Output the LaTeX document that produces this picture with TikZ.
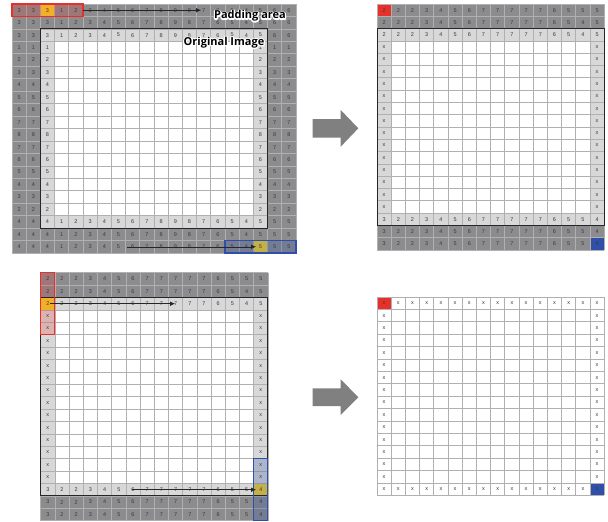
\documentclass[tikz,border=0pt]{standalone}
\usepackage{fontspec}
\setmainfont{Liberation Sans}
\newfontfamily\lblfont{Open Sans}
\usetikzlibrary{arrows.meta,calc}
\definecolor{padgray}{HTML}{8C8C8E}
\definecolor{bordgray}{HTML}{D8D8D8}
\definecolor{linecol}{HTML}{B0B0B0}
\definecolor{numcol}{HTML}{3A3A3A}
\definecolor{boxred}{HTML}{E8302A}
\definecolor{boxblue}{HTML}{2F4FA8}
\definecolor{hiyel}{HTML}{F5D327}
\definecolor{arrowgray}{HTML}{808080}
\tikzset{
  num/.style={font=\fontsize{5.5}{5.5}\selectfont, text=numcol, inner sep=0pt},
  gridline/.style={draw=linecol, line width=0.7pt},
  imgframe/.style={draw=black!85, line width=1pt},
  redbox/.style={draw=boxred, line width=1.1pt},
  bluebox/.style={draw=boxblue, line width=1.1pt},
  redtint/.style={fill=boxred, fill opacity=0.22},
  bluetint/.style={fill=boxblue, fill opacity=0.25},
  flow/.style={draw=black!85, line width=0.45pt, -{Latex[length=5pt,width=4.5pt]}},
  lbl/.style={font=\lblfont\bfseries\fontsize{11}{12}\selectfont, inner sep=0pt},
  bigarrow/.style={fill=arrowgray}
}
% region fill: style, c1, r1, c2, r2 (cell indices, end exclusive)
\newcommand{\rg}[5]{\fill[#1] ({\X+#2*\CW},{\Y+#3*\RH}) rectangle ({\X+#4*\CW},{\Y+#5*\RH});}
\newcommand{\rgdraw}[5]{\draw[#1] ({\X+#2*\CW},{\Y+#3*\RH}) rectangle ({\X+#4*\CW},{\Y+#5*\RH});}
% grid lines: ncols, nrows
\newcommand{\glines}[2]{%
  \foreach \i in {0,...,#1} \draw[gridline] ({\X+\i*\CW},\Y) -- ({\X+\i*\CW},{\Y+#2*\RH});
  \foreach \j in {0,...,#2} \draw[gridline] (\X,{\Y+\j*\RH}) -- ({\X+#1*\CW},{\Y+\j*\RH});}
% number: col, row, text
\newcommand{\nm}[3]{\node[num] (\G-#2-#1) at ({\X+(#1+0.5)*\CW},{\Y+(#2+0.5)*\RH}) {#3};}
% label with a white outline: stroked white copy, then black copy
\newcommand{\strokeon}{\special{pdf:literal direct 1 Tr 2.4 w 1 j}}
\newcommand{\strokeoff}{\special{pdf:literal direct 0 Tr 0.4 w 0 j}}
\newcommand{\halolabel}[3]{%
  \begin{scope}\node[lbl,text=white] at (#2) {\strokeon#3\strokeoff};\end{scope}
  \node[lbl] (#1) at (#2) {#3};}
\begin{document}
\begin{tikzpicture}[x=1pt,y=-1pt]
\useasboundingbox (0,0) rectangle (608,522);
\fill[white] (0,0) rectangle (608,522);

% ---------------- Grid A (top-left) ----------------
\begin{scope}
\def\X{12}\def\Y{4}\def\CW{14.2}\def\RH{12.45}\def\G{A}
\rg{padgray}{0}{0}{20}{20}
\rg{bordgray}{2}{2}{18}{18}
\rg{white}{3}{3}{17}{17}
\rg{hiyel}{2}{0}{3}{1}
\rg{hiyel}{17}{19}{18}{20}
\glines{20}{20}
\rg{redtint}{0}{0}{5}{1}
\rg{bluetint}{15}{19}{20}{20}
\foreach \r in {0,1,2}{\foreach \v [count=\c from 0] in {3,3,3,1,2,3,4,5,6,7,8,9,8,7,6,5,4,5,6,6}{\nm{\c}{\r}{\v}}}
\foreach \r in {17,18,19}{\foreach \v [count=\c from 0] in {4,4,4,1,2,3,4,5,6,7,8,9,8,7,6,5,4,5,5,5}{\nm{\c}{\r}{\v}}}
\foreach \v [count=\r from 3] in {1,2,3,4,5,6,7,8,7,6,5,4,3,2}{\foreach \c in {0,1,2,17,18,19}{\nm{\c}{\r}{\v}}}
\rgdraw{imgframe}{2}{2}{18}{18}
\rgdraw{redbox}{0}{0}{5}{1}
\rgdraw{bluebox}{15}{19}{20}{20}
\coordinate (A-s1) at ({\X+5*\CW},{\Y+0.5*\RH});
\coordinate (A-e1) at (201,{\Y+0.5*\RH});
\draw[flow] (A-s1) -- (A-e1);
\coordinate (A-s2) at (127,{\Y+19.5*\RH});
\coordinate (A-e2) at (256,{\Y+19.5*\RH});
\draw[flow] (A-s2) -- (A-e2);
\halolabel{padlbl}{250,16}{Padding area}
\halolabel{origlbl}{224,42.5}{Original Image}
\end{scope}

% ---------------- Grid B (top-right) ----------------
\begin{scope}
\def\X{377}\def\Y{4}\def\CW{14.2}\def\RH{12.3}\def\G{B}
\rg{padgray}{0}{0}{16}{20}
\rg{bordgray}{0}{2}{16}{18}
\rg{white}{1}{3}{15}{17}
\rg{boxred}{0}{0}{1}{1}
\rg{boxblue}{15}{19}{16}{20}
\glines{16}{20}
\foreach \v [count=\c from 0] in {2,2,2,3,4,5,6,7,7,7,7,7,6,5,5,5}{\nm{\c}{0}{\v}}
\foreach \r in {1,2}{\foreach \v [count=\c from 0] in {2,2,2,3,4,5,6,7,7,7,7,7,6,5,4,5}{\nm{\c}{\r}{\v}}}
\foreach \r in {17,18,19}{\foreach \v [count=\c from 0] in {3,2,2,3,4,5,6,7,7,7,7,7,6,5,5,4}{\nm{\c}{\r}{\v}}}
\foreach \r in {3,...,16}{\nm{0}{\r}{x}\nm{15}{\r}{x}}
\rgdraw{imgframe}{0}{2}{16}{18}
\end{scope}

% ---------------- Grid C (bottom-left) ----------------
\begin{scope}
\def\X{40.7}\def\Y{272.7}\def\CW{14.2}\def\RH{12.4}\def\G{C}
\rg{padgray}{0}{0}{16}{20}
\rg{bordgray}{0}{2}{16}{18}
\rg{white}{1}{3}{15}{17}
\rg{hiyel}{0}{2}{1}{3}
\rg{hiyel}{15}{17}{16}{18}
\glines{16}{20}
\rg{redtint}{0}{0}{1}{5}
\rg{bluetint}{15}{15}{16}{20}
\foreach \v [count=\c from 0] in {2,2,2,3,4,5,6,7,7,7,7,7,6,5,5,5}{\nm{\c}{0}{\v}}
\foreach \r in {1,2}{\foreach \v [count=\c from 0] in {2,2,2,3,4,5,6,7,7,7,7,7,6,5,4,5}{\nm{\c}{\r}{\v}}}
\foreach \r in {17,18,19}{\foreach \v [count=\c from 0] in {3,2,2,3,4,5,6,7,7,7,7,7,6,5,5,4}{\nm{\c}{\r}{\v}}}
\foreach \r in {3,...,16}{\nm{0}{\r}{x}\nm{15}{\r}{x}}
\rgdraw{imgframe}{0}{2}{16}{18}
\rgdraw{redbox}{0}{0}{1}{5}
\rgdraw{bluebox}{15}{15}{16}{20}
\coordinate (C-s1) at (50,{\Y+2.5*\RH});
\coordinate (C-e1) at (175,{\Y+2.5*\RH});
\draw[flow] (C-s1) -- (C-e1);
\coordinate (C-s2) at (132,{\Y+17.5*\RH});
\coordinate (C-e2) at (256,{\Y+17.5*\RH});
\draw[flow] (C-s2) -- (C-e2);
\end{scope}

% ---------------- Grid D (bottom-right) ----------------
\begin{scope}
\def\X{377}\def\Y{297}\def\CW{14.2}\def\RH{12.4}\def\G{D}
\rg{white}{0}{0}{16}{16}
\rg{boxred}{0}{0}{1}{1}
\rg{boxblue}{15}{15}{16}{16}
\glines{16}{16}
\foreach \c in {0,...,15}{\nm{\c}{0}{x}\nm{\c}{15}{x}}
\foreach \r in {1,...,14}{\nm{0}{\r}{x}\nm{15}{\r}{x}}
\end{scope}

% ---------------- big arrows ----------------
\fill[bigarrow] (312.7,119) -- (340.7,119) -- (340.7,110) -- (358.3,128.3) -- (340.7,146.7) -- (340.7,137.7) -- (312.7,137.7) -- cycle;
\fill[bigarrow] (312.7,388.3) -- (340.7,388.3) -- (340.7,379.3) -- (358.3,397.2) -- (340.7,415) -- (340.7,406) -- (312.7,406) -- cycle;
\end{tikzpicture}
\end{document}
